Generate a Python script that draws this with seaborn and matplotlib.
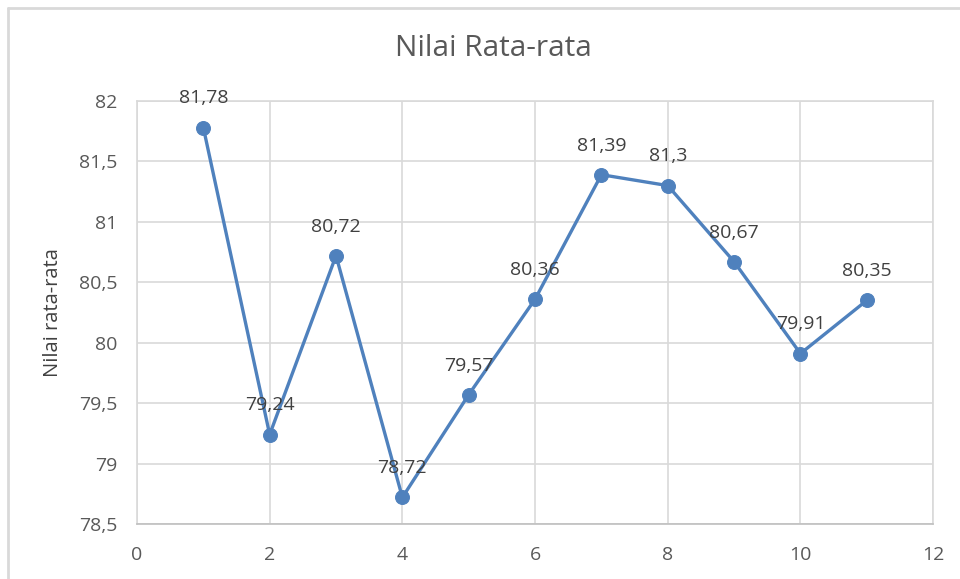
import pandas as pd
import seaborn as sns
import matplotlib.pyplot as plt
from matplotlib.lines import Line2D
from matplotlib.ticker import FuncFormatter, MultipleLocator

pertemuan = [1, 2, 3, 4, 5, 6, 7, 8, 9, 10, 11]
nilai = [81.78, 79.24, 80.72, 78.72, 79.57, 80.36, 81.39, 81.3, 80.67, 79.91, 80.35]
labels = ['81,78', '79,24', '80,72', '78,72', '79,57', '80,36', '81,39', '81,3', '80,67', '79,91', '80,35']

df = pd.DataFrame({'x': pertemuan, 'nilai': nilai})

sns.set_style('white')
plt.rcParams['font.family'] = ['Open Sans', 'DejaVu Sans']

line_color = '#4F81BD'
grid_color = '#D9D9D9'
text_color = '#595959'

fig = plt.figure(figsize=(9.6, 5.79), dpi=100)
ax = fig.add_axes([0.1427, 0.095, 0.972 - 0.1427, 0.8256 - 0.095])

sns.lineplot(data=df, x='x', y='nilai', ax=ax, color=line_color, linewidth=2.4,
             marker='o', markersize=10, markeredgecolor=line_color, zorder=3)

for xv, yv, lab in zip(pertemuan, nilai, labels):
    ax.annotate(lab, (xv, yv), xytext=(0, 21), textcoords='offset points',
                ha='center', va='center', fontsize=14, color='#404040', zorder=4)

ax.set_xlim(0, 12)
ax.set_ylim(78.5, 82)
ax.xaxis.set_major_locator(MultipleLocator(2))
ax.yaxis.set_major_locator(MultipleLocator(0.5))
fmt = FuncFormatter(lambda v, p: f'{v:g}'.replace('.', ','))
ax.xaxis.set_major_formatter(fmt)
ax.yaxis.set_major_formatter(fmt)

ax.grid(True, color=grid_color, linewidth=1.2)
ax.set_axisbelow(True)
for s in ax.spines.values():
    s.set_color(grid_color)
    s.set_linewidth(1.2)
ax.spines['bottom'].set_color('#BFBFBF')

ax.tick_params(axis='both', length=0, labelsize=14, colors=text_color)
ax.tick_params(axis='x', pad=16)
ax.tick_params(axis='y', pad=14)
ax.set_xlabel('')
ax.set_ylabel('Nilai rata-rata', fontsize=14.5, color='#404040')
ax.yaxis.set_label_coords(-0.093, 0.5)

fig.text(0.5135, 0.917, 'Nilai Rata-rata', ha='center', va='center',
         fontsize=21.5, color=text_color)

# chart frame (only left and top edges visible in the crop)
fig.add_artist(Line2D([8 / 960, 8 / 960], [0, 1 - 8 / 579], transform=fig.transFigure,
                      color='#D9D9D9', linewidth=2))
fig.add_artist(Line2D([8 / 960, 1], [1 - 8 / 579, 1 - 8 / 579], transform=fig.transFigure,
                      color='#D9D9D9', linewidth=2))

plt.savefig('out.png', dpi=100)
